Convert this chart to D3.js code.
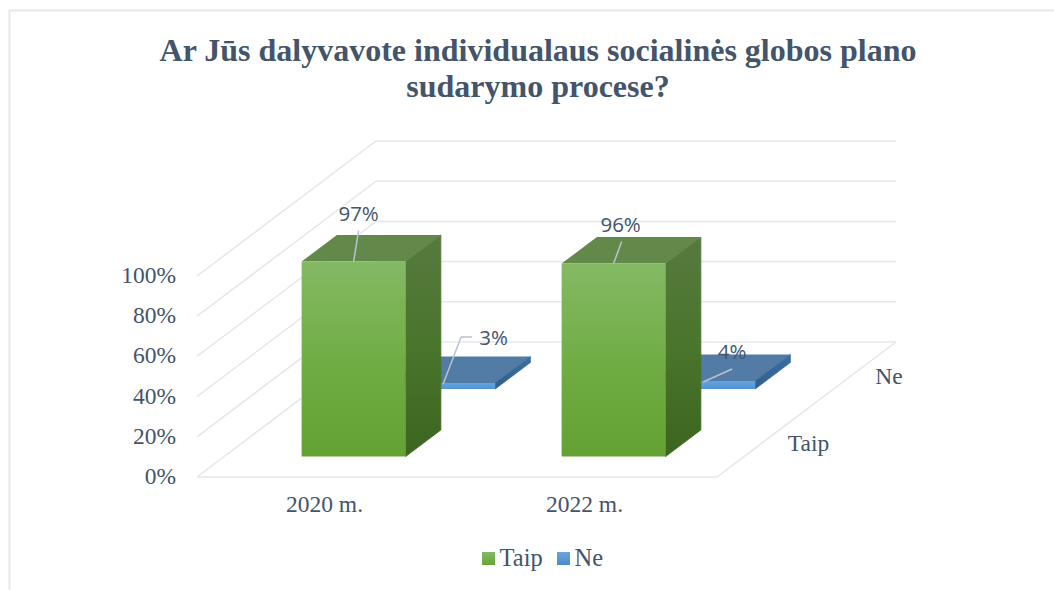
<!DOCTYPE html>
<html><head><meta charset="utf-8">
<script src="https://cdn.jsdelivr.net/npm/d3@7/dist/d3.min.js"></script>
<style>html,body{margin:0;padding:0;background:#fff;overflow:hidden}svg{display:block}</style>
</head><body><svg id="c" width="1054" height="590"></svg>
<script>
const categories = ["2020 m.", "2022 m."];
const seriesNames = ["Taip", "Ne"];
const taipValues = [97, 96];
const neValues = [3, 4];
const yTicks = [0, 20, 40, 60, 80, 100];
const titleLines = ["Ar Jūs dalyvavote individualaus socialinės globos plano", "sudarymo procese?"];

const TEXT = "#44546a", GRID = "#e4e7ee", LEADER = "#b9c2d0";
const SERIF = "'Liberation Serif','Times New Roman',serif";
const svg = d3.select("#c");

// 3-D oblique projection: x across, y up, depth (0..1) into the picture
const x = d3.scaleBand().domain(categories).range([197, 717]);
const y = d3.scaleLinear().domain([0, 100]).range([477, 276]);
const depth = d3.scaleBand().domain(seriesNames).range([0, 1]);
const depthDx = 179, depthDy = -135;
const proj = (px, v, d) => [px + d * depthDx, y(v) + d * depthDy];
const poly = pts => pts.map(p => p.join(",")).join(" ");

const defs = svg.append("defs");
function grad(id, stops, x2 = 0, y2 = 1) {
  const g = defs.append("linearGradient").attr("id", id)
    .attr("x1", 0).attr("y1", 0).attr("x2", x2).attr("y2", y2);
  stops.forEach(([o, c]) => g.append("stop").attr("offset", o).attr("stop-color", c));
}
grad("gFront", [[0, "#84b964"], [0.5, "#70ae45"], [1, "#63a133"]]);
grad("gSide", [[0, "#567a3f"], [0.5, "#4a752c"], [1, "#3c651f"]]);
grad("bFront", [[0, "#66a3de"], [1, "#4f93d4"]]);
grad("bSide", [[0, "#3b6f9f"], [1, "#2f5f8c"]]);
grad("lgG", [[0, "#84b964"], [1, "#66a636"]]);
grad("lgB", [[0, "#6fa3dc"], [1, "#4a8cca"]]);

// outer frame
svg.append("path").attr("d", "M9.5,590V10.5H1054").attr("fill", "none")
  .attr("stroke", GRID).attr("stroke-width", 2);

// gridlines on side and back walls, plus the floor
const [x0, x1] = x.range();
const grid = svg.append("g").attr("fill", "none").attr("stroke", GRID).attr("stroke-width", 1.5);
yTicks.forEach(t => {
  grid.append("polyline").attr("points", poly([proj(x0, t, 0), proj(x0, t, 1), proj(x1, t, 1)]));
});
grid.append("polyline").attr("points", poly([proj(x0, 0, 0), proj(x1, 0, 0), proj(x1, 0, 1)]));

// bars
const barFrac = 0.4, depthFrac = 0.394;
function drawBar(cat, serie, v, fills) {
  const bw = x.bandwidth() * barFrac;
  const left = x(cat) + (x.bandwidth() - bw) / 2 - 0.5;
  const right = left + bw;
  const db = depth.bandwidth() * depthFrac;
  const dFront = depth(serie) + (depth.bandwidth() - db) / 2;
  const dBack = dFront + db;
  const g = svg.append("g");
  g.append("polygon").attr("fill", fills[0]).attr("points", poly([
    proj(left, v, dFront), proj(left, v, dBack), proj(right, v, dBack), proj(right, v, dFront)]));
  g.append("polygon").attr("fill", `url(#${fills[1]})`).attr("stroke", `url(#${fills[1]})`).attr("stroke-width", 0.8)
    .attr("points", poly([
    proj(right, 0, dFront), proj(right, v, dFront), proj(right, v, dBack), proj(right, 0, dBack)]));
  g.append("polygon").attr("fill", `url(#${fills[2]})`).attr("points", poly([
    proj(left, 0, dFront), proj(left, v, dFront), proj(right, v, dFront), proj(right, 0, dFront)]));
  return { left, right, dFront, dBack };
}
const neGeom = categories.map((c, i) => drawBar(c, "Ne", neValues[i], ["#527ba6", "bSide", "bFront"]));
const taipGeom = categories.map((c, i) => drawBar(c, "Taip", taipValues[i], ["#62894a", "gSide", "gFront"]));

// data labels with leader lines, offset from each bar's projected front-top edge
const leaders = svg.append("g").attr("fill", "none").attr("stroke", LEADER).attr("stroke-width", 1.5);
const labels = svg.append("g").attr("fill", TEXT).attr("font-family", "'Open Sans',sans-serif").attr("font-size", 20.5);
function label(anchorPt, offs, text, tx, ty) {
  const pts = offs.map(o => [anchorPt[0] + o[0], anchorPt[1] + o[1]]);
  leaders.append("polyline").attr("points", poly(pts));
  labels.append("text").attr("x", anchorPt[0] + tx).attr("y", anchorPt[1] + ty).attr("text-anchor", "middle").text(text);
}
taipGeom.forEach((g, i) => {
  const a = proj((g.left + g.right) / 2, taipValues[i], g.dFront);
  if (i === 0) label(a, [[0, 0], [5, -31]], taipValues[i] + "%", 5, -41);
  else label(a, [[0, 0], [8, -22]], taipValues[i] + "%", 7, -32);
});
neGeom.forEach((g, i) => {
  const a = proj(g.left, neValues[i], g.dFront);
  if (i === 0) label(a, [[52, 1], [70, -46], [81, -46]], neValues[i] + "%", 102.5, -38);
  else label(a, [[52, 1], [81, -12]], neValues[i] + "%", 81, -22);
});

// value axis, category axis, depth axis, all as real text
const axisText = svg.append("g").attr("fill", TEXT).attr("font-family", SERIF).attr("font-size", 23.5);
yTicks.forEach(t => {
  axisText.append("text").attr("x", 176).attr("y", y(t) + 7).attr("text-anchor", "end").text(t + "%");
});
categories.forEach(c => {
  axisText.append("text").attr("x", x(c) + x.bandwidth() / 2 - 2.5).attr("y", 512).attr("text-anchor", "middle").text(c);
});
seriesNames.forEach((s, i) => {
  const d = depth(s) + depth.bandwidth() / 2;
  const p = proj(x1, 0, d);
  axisText.append("text").attr("x", p[0] + (i === 0 ? 26 : 24)).attr("y", p[1] + (i === 0 ? 8 : 8)).text(s);
});

// legend
const legend = svg.append("g").attr("font-family", SERIF).attr("font-size", 24.5).attr("fill", TEXT);
const legendX = d3.scaleOrdinal().domain(seriesNames).range([482, 557]);
seriesNames.forEach((s, i) => {
  legend.append("rect").attr("x", legendX(s)).attr("y", 552).attr("width", 13).attr("height", 13)
    .attr("fill", i === 0 ? "url(#lgG)" : "url(#lgB)");
  legend.append("text").attr("x", legendX(s) + 17.5).attr("y", 566).text(s);
});

// title
const title = svg.append("g").attr("font-family", SERIF).attr("font-weight", "bold").attr("font-size", 32)
  .attr("fill", TEXT).attr("text-anchor", "middle");
titleLines.forEach((t, i) => title.append("text").attr("x", 538).attr("y", 61 + i * 36).text(t));
</script></body></html>
